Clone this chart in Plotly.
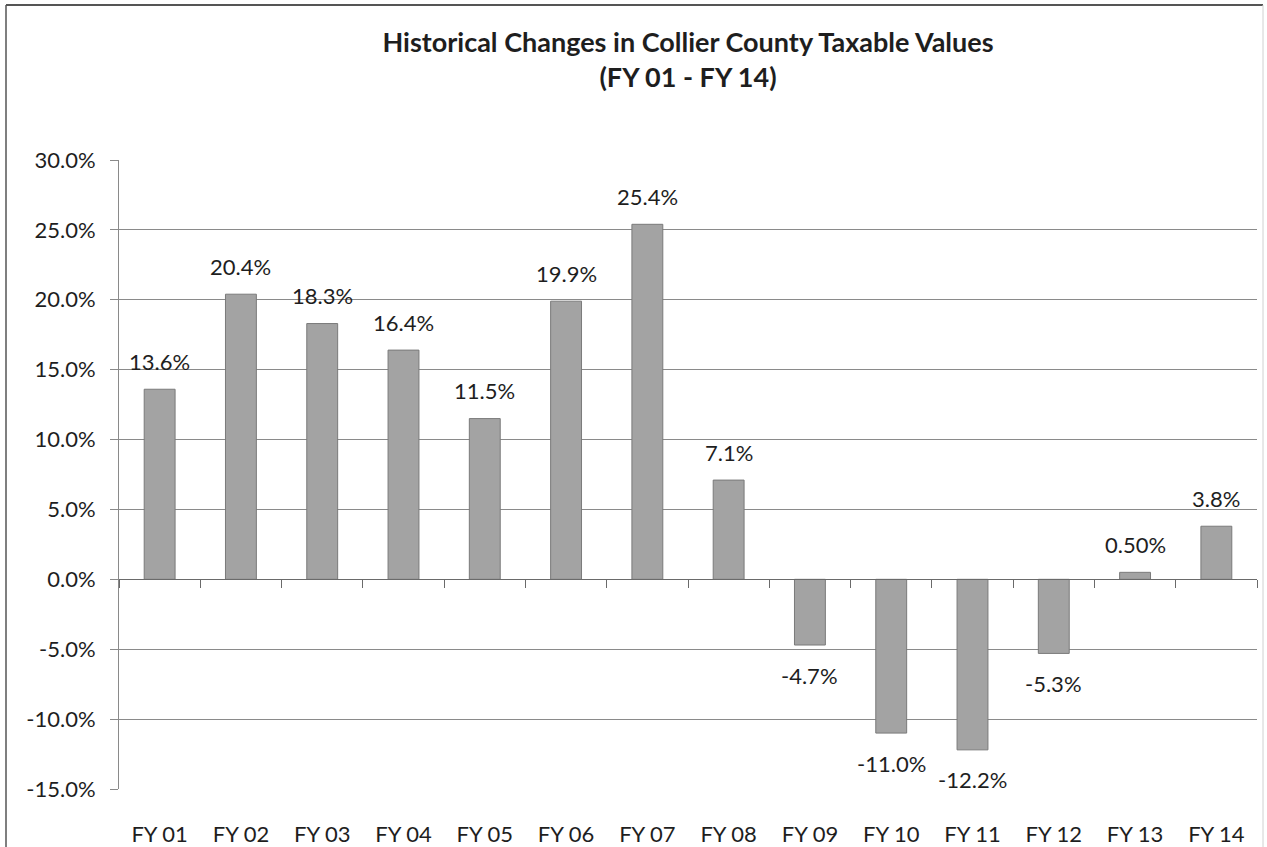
import plotly.graph_objects as go

categories = ["FY 01", "FY 02", "FY 03", "FY 04", "FY 05", "FY 06", "FY 07",
              "FY 08", "FY 09", "FY 10", "FY 11", "FY 12", "FY 13", "FY 14"]
values = [13.6, 20.4, 18.3, 16.4, 11.5, 19.9, 25.4, 7.1, -4.7, -11.0, -12.2, -5.3, 0.5, 3.8]
labels = ["13.6%", "20.4%", "18.3%", "16.4%", "11.5%", "19.9%", "25.4%", "7.1%",
          "-4.7%", "-11.0%", "-12.2%", "-5.3%", "0.50%", "3.8%"]
y_ticks = [-15, -10, -5, 0, 5, 10, 15, 20, 25, 30]
y_tick_text = ["-15.0%", "-10.0%", "-5.0%", "0.0%", "5.0%", "10.0%", "15.0%", "20.0%", "25.0%", "30.0%"]

FONT = "Lato"
TXT = "#1e1e1e"
W, H = 1267, 847
ML, MR, MT, MB = 119, 10, 160, 58
y_range = [-15, 30]
FS = 22

fig = go.Figure()
fig.add_trace(go.Bar(
    x=categories, y=values, width=0.38,
    marker=dict(color="#a3a3a3", line=dict(color="#7a7a7a", width=1)),
    hoverinfo="x+y", showlegend=False,
))
# invisible trace to host the zero-line axis with boundary ticks
fig.add_trace(go.Scatter(x=categories, y=[0] * len(categories), xaxis="x2",
                         mode="markers", marker=dict(opacity=0), showlegend=False,
                         hoverinfo="skip"))

for c, v, t in zip(categories, values, labels):
    fig.add_annotation(x=c, y=v, text=t, showarrow=False,
                       yshift=28 if v >= 0 else -30, yanchor="middle",
                       font=dict(family=FONT, size=FS, color=TXT))

zero_frac = (0 - y_range[0]) / (y_range[1] - y_range[0])

fig.update_layout(
    width=W, height=H,
    margin=dict(l=ML, r=MR, t=MT, b=MB, autoexpand=False),
    paper_bgcolor="white", plot_bgcolor="white",
    title=dict(text="<b>Historical Changes in Collier County Taxable Values<br>(FY 01 - FY 14)</b>",
               x=0.5, xref="paper", xanchor="center",
               yref="container", y=1 - 52 / H, yanchor="top",
               font=dict(family=FONT, size=27, color=TXT)),
    font=dict(family=FONT, size=FS, color=TXT),
    bargap=0.62,
    xaxis=dict(range=[-0.5, 13.5], showgrid=False, showline=False, ticks="",
               automargin=False,
               ticklabelstandoff=30, tickfont=dict(family=FONT, size=FS, color=TXT),
               zeroline=False),
    xaxis2=dict(range=[-0.5, 13.5], overlaying="x", anchor="free",
                position=zero_frac, showticklabels=False, showgrid=False,
                showline=True, linecolor="#6a6a6a", linewidth=1,
                ticks="outside", tickson="boundaries", ticklen=8,
                tickcolor="#6a6a6a", tickwidth=1, zeroline=False),
    yaxis=dict(range=y_range, tickvals=y_ticks, ticktext=y_tick_text,
               automargin=False,
               showgrid=True, gridcolor="#8a8a8a", gridwidth=1,
               showline=True, linecolor="#8a8a8a", linewidth=1,
               ticks="outside", ticklen=8, tickcolor="#8a8a8a",
               ticklabelstandoff=10,
               zeroline=False, tickfont=dict(family=FONT, size=FS, color=TXT)),
)

# chart border (decorative frame): left, top, faint right
pw = W - ML - MR
ph = H - MT - MB
xl = (6 - ML) / pw
xr = (1263 - ML) / pw
yt = 1 + (MT - 5) / ph
yb = -(MB + 5) / ph
fig.add_shape(type="line", xref="paper", yref="paper", x0=xl, x1=xl, y0=yb, y1=yt,
              line=dict(color="#555555", width=1.5))
fig.add_shape(type="line", xref="paper", yref="paper", x0=xl, x1=xr, y0=yt, y1=yt,
              line=dict(color="#555555", width=2))
fig.add_shape(type="line", xref="paper", yref="paper", x0=xr, x1=xr, y0=yb, y1=yt,
              line=dict(color="#d0d0d0", width=1))

fig.write_html("out.html", config={"displayModeBar": False},
               post_script="document.body.style.margin='0';document.body.style.overflow='hidden';")
